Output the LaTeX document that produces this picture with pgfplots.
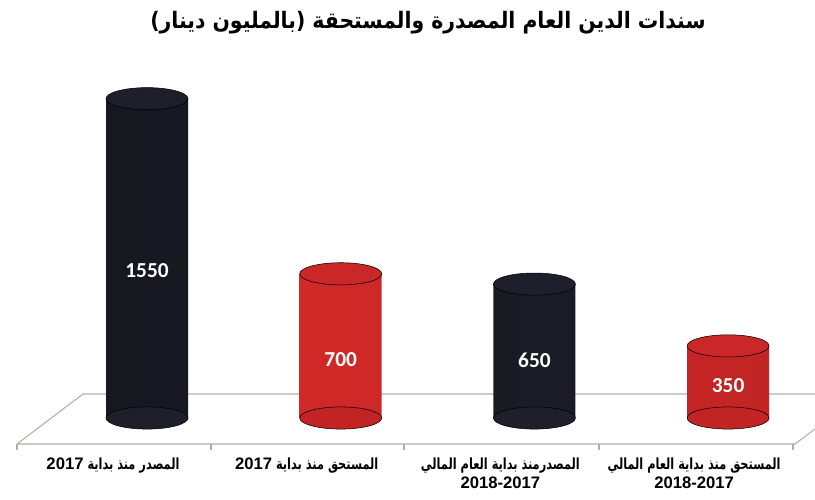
\documentclass[border=0pt]{standalone}
\usepackage{fontspec}
\usepackage{pgfplots}
\pgfplotsset{compat=1.18}
\TeXXeTstate=1
\newfontfamily\arabicfont[Script=Arabic]{DejaVu Sans}
\newfontfamily\titlefont[Script=Arabic, FakeStretch=0.9]{DejaVu Sans}
\newfontfamily\labfont[Script=Arabic, FakeStretch=0.74]{DejaVu Sans}
\newfontfamily\numfont{Carlito}
\newfontfamily\latfont{Liberation Sans}
\newcommand{\yr}[1]{{\fontsize{12.5}{14.5}\selectfont\latfont #1}}
\definecolor{navyL}{HTML}{16171F}
\definecolor{navyM}{HTML}{2A3047}
\definecolor{navyR}{HTML}{1A1B25}
\definecolor{navyT}{HTML}{1E1F2B}
\definecolor{redL}{HTML}{D02927}
\definecolor{redM}{HTML}{EE3C36}
\definecolor{redR}{HTML}{C22424}
\definecolor{redT}{HTML}{CB2729}
\definecolor{floorc}{HTML}{B5ADA5}
\begin{document}
\begin{tikzpicture}[x=0.75pt,y=0.75pt]
\useasboundingbox (0,0) rectangle (815,500);
% floor (decoration)
\draw[floorc, line width=0.8pt] (17,56) -- (795,56) -- (815,71);
\draw[floorc, line width=0.8pt] (17,56) -- (83,106) -- (815,106);
\foreach \t in {17,211,404,599,793} \draw[floorc, line width=0.8pt] (\t,56) -- (\t,50);
% title
\node[font=\titlefont\bfseries\fontsize{17}{20}\selectfont] at (428,477) {\beginR سندات الدين العام المصدرة والمستحقة (بالمليون دينار)\endR};
\begin{axis}[
  at={(110.25pt,61.5pt)}, anchor=origin,
  scale only axis, width=611.25pt, height=341.25pt,
  xmin=-0.7589, xmax=3.4486, ymin=-179.6, ymax=2029.1,
  axis line style={draw=none}, major tick length=0pt,
  ytick=\empty,
  xtick={0,1,2,3},
  xticklabels={
    {\beginR المصدر منذ بداية \beginL\yr{2017}\endL\endR},
    {\beginR المستحق منذ بداية \beginL\yr{2017}\endL\endR},
    {\beginR المصدرمنذ بداية العام المالي\endR\\\yr{2018-2017}},
    {\beginR المستحق منذ بداية العام المالي\endR\\\yr{2018-2017}}},
  xticklabel style={font=\labfont\bfseries\fontsize{11.5}{14.5}\selectfont, align=center, xshift=-25.5pt, anchor=north, yshift=1.5pt},
  clip=false,
]
% bottom ellipses
\addplot[only marks, mark=*, mark size=30.75pt, mark options={yscale=0.27, fill=navyT, draw=none}] coordinates {(0,0) (2,0)};
\addplot[only marks, mark=*, mark size=30.75pt, mark options={yscale=0.27, fill=redR, draw=none}] coordinates {(1,0) (3,0)};
% bodies
\addplot[ybar, bar width=61.5pt, bar shift=0pt, draw=none, left color=navyL, middle color=navyM, right color=navyR] coordinates {(0,1550) (2,650)};
\addplot[ybar, bar width=61.5pt, bar shift=0pt, draw=none, left color=redL, middle color=redM, right color=redR] coordinates {(1,700) (3,350)};
% tops
\addplot[only marks, mark=*, mark size=30.75pt, mark options={yscale=0.27, fill=navyT, draw=none}] coordinates {(0,1550) (2,650)};
\addplot[only marks, mark=*, mark size=30.75pt, mark options={yscale=0.27, fill=redT, draw=none}] coordinates {(1,700) (3,350)};
% value labels
\addplot[draw=none, mark=none, nodes near coords, point meta=explicit symbolic,
  nodes near coords style={font=\numfont\bfseries\fontsize{16}{16}\selectfont, text=white, anchor=center}]
  coordinates {(0,718) [1550] (1,282) [700] (2,282) [650] (3,155) [350]};
\end{axis}
\end{tikzpicture}
\end{document}
